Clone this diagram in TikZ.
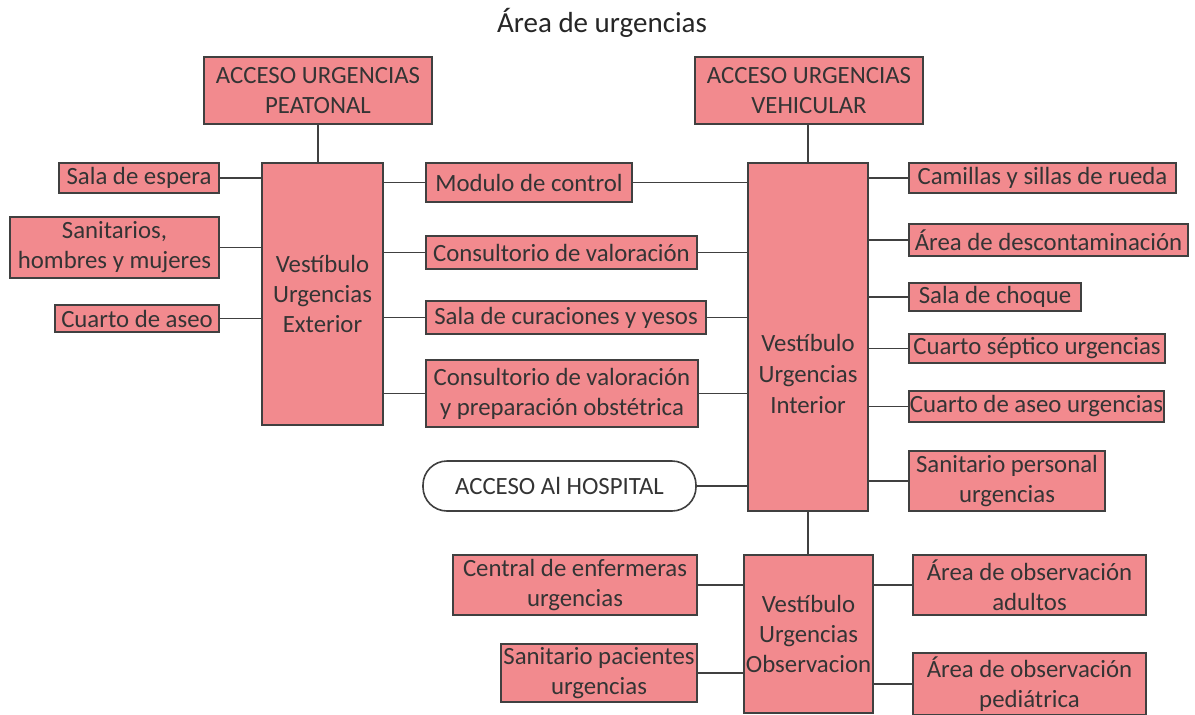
\documentclass[tikz,border=0pt]{standalone}
\usepackage{fontspec}
\setmainfont{Carlito}
\definecolor{pinkfill}{RGB}{242,138,142}
\definecolor{edge}{RGB}{64,64,64}
\definecolor{txt}{RGB}{52,52,52}
\begin{document}
\begin{tikzpicture}[x=1pt,y=-1pt,
  box/.style={draw=edge, line width=1.6pt, fill=pinkfill, inner sep=0pt, align=center, text=txt,
    font=\fontsize{24.8}{30}\selectfont},
  conn/.style={draw=edge, line width=1.6pt},
  lbl/.style={inner sep=0pt, align=center, text=txt, font=\fontsize{24.8}{31}\selectfont}]
\clip (0,0) rectangle (1195,715);
\fill[white] (0,0) rectangle (1195,715);
\node[inner sep=0pt, text=black!85, font=\fontsize{29}{32}\selectfont] (title) at (602,23) {Área de urgencias};

\node[box, minimum width=228pt, minimum height=67pt] (peat) at (318,90.5) {ACCESO URGENCIAS\\PEATONAL};
\node[box, minimum width=228pt, minimum height=67pt] (vehi) at (809,90.5) {ACCESO URGENCIAS\\VEHICULAR};
\node[box, minimum width=121pt, minimum height=262pt] (vext) at (322.5,294) {Vestíbulo\\Urgencias\\Exterior};
\node[box, minimum width=160pt, minimum height=30pt] (sala) at (139,178) {Sala de espera};
\node[box, minimum width=209pt, minimum height=61pt] (sanit) at (114.5,247.5) {Sanitarios,\\hombres y mujeres};
\node[box, minimum width=164pt, minimum height=27pt] (cuarto) at (137,318.5) {Cuarto de aseo};
\node[box, minimum width=206pt, minimum height=39pt] (mod) at (529,182.5) {Modulo de control};
\node[box, minimum width=271pt, minimum height=33pt] (cons) at (561.5,252.5) {Consultorio de valoración};
\node[box, minimum width=280pt, minimum height=33pt] (curac) at (566,317.5) {Sala de curaciones y yesos};
\node[box, minimum width=272pt, minimum height=67pt] (consprep) at (562,393.5) {Consultorio de valoración\\y preparación obstétrica};
\node[box, minimum width=120pt, minimum height=348pt] (vint) at (808,337) {};
\node[lbl] (vintlbl) at (808,374) {Vestíbulo\\Urgencias\\Interior};
\node[box, minimum width=267pt, minimum height=30pt] (cam) at (1042.5,178) {Camillas y sillas de rueda};
\node[box, minimum width=279pt, minimum height=32pt] (desc) at (1048.5,240) {Área de descontaminación};
\node[box, minimum width=172pt, minimum height=28pt] (choque) at (995,297) {Sala de choque};
\node[box, minimum width=256pt, minimum height=29pt] (septico) at (1037,348.5) {Cuarto séptico urgencias};
\node[box, minimum width=255pt, minimum height=31pt] (aseoU) at (1036.5,406.5) {Cuarto de aseo urgencias};
\node[box, minimum width=196pt, minimum height=60pt] (sanper) at (1007,481) {Sanitario personal\\urgencias};
\node[box, fill=white, rounded corners=24pt, minimum width=273pt, minimum height=50pt] (hosp) at (559.5,486) {ACCESO Al HOSPITAL};
\node[box, minimum width=129pt, minimum height=158pt] (vobs) at (808.5,634) {Vestíbulo\\Urgencias\\Observacion};
\node[box, minimum width=244pt, minimum height=60pt] (central) at (575,585) {Central de enfermeras\\urgencias};
\node[box, minimum width=196pt, minimum height=58pt] (sanpac) at (599,673) {Sanitario pacientes\\urgencias};
\node[box, minimum width=233pt, minimum height=60pt] (adult) at (1029.5,585) {Área de observación\\adultos};
\node[box, minimum width=233pt, minimum height=62pt] (pedi) at (1029.5,684) {Área de observación\\pediátrica};

\draw[conn] (peat.south) -- (peat.south |- vext.north);
\draw[conn] (vehi.south -| vint.north) -- (vint.north);
\draw[conn] (sala.east) -- (sala.east -| vext.west);
\draw[conn] (sanit.east) -- (sanit.east -| vext.west);
\draw[conn] (cuarto.east) -- (cuarto.east -| vext.west);
\foreach \n in {mod,cons,curac,consprep}{
  \draw[conn] (vext.east |- \n.west) -- (\n.west);
  \draw[conn] (\n.east) -- (\n.east -| vint.west);
}
\draw[conn] (hosp.east) -- (hosp.east -| vint.west);
\foreach \n in {cam,desc,choque,septico,aseoU,sanper}{
  \draw[conn] (vint.east |- \n.west) -- (\n.west);
}
\draw[conn] (vint.south) -- (vint.south |- vobs.north);
\draw[conn] (central.east) -- (central.east -| vobs.west);
\draw[conn] (sanpac.east) -- (sanpac.east -| vobs.west);
\draw[conn] (vobs.east |- adult.west) -- (adult.west);
\draw[conn] (vobs.east |- pedi.west) -- (pedi.west);
\end{tikzpicture}
\end{document}
